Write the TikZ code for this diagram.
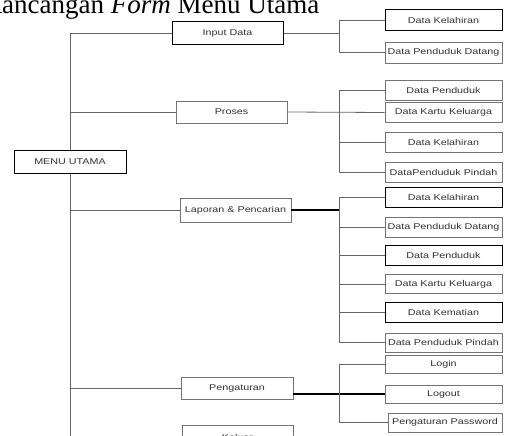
\documentclass[tikz,border=0pt]{standalone}
\usepackage{fontspec}
\setmainfont{Liberation Serif}
\newfontfamily\boxfont{Liberation Sans}
\newcommand\bt[1]{\scalebox{1.28}[1]{#1}}
\begin{document}
\begin{tikzpicture}[x=1pt,y=-1pt,
  box/.style={draw=black!55, line width=0.7pt, fill=white, minimum width=117pt, minimum height=20pt, inner sep=0pt,
    font=\boxfont\fontsize{8.4}{10}\selectfont, text=black!80},
  dark/.style={draw=black, line width=1pt},
  mid/.style={minimum width=111pt, minimum height=23pt},
  conn/.style={draw=black!60, line width=0.8pt},
  thick conn/.style={draw=black, line width=1.1pt}]
\useasboundingbox (0,0) rectangle (506,436);

% title (cut at top)
\node[anchor=base west, inner sep=0pt, font=\fontsize{27}{30}\selectfont] (title) at (-16,13.5) {Rancangan \textit{Form} Menu Utama};

% level 1
\node[box, dark, minimum width=112pt, minimum height=23pt] (menu) at (70,161.5) {\bt{MENU UTAMA}};
% level 2
\node[box, mid, dark] (input) at (227.5,33.5) {\bt{Input Data}};
\node[box, mid, minimum height=22pt] (proses) at (231.5,112) {\bt{Proses}};
\node[box, mid, minimum height=24pt] (lap) at (235.5,210) {\bt{Laporan \& Pencarian}};
\node[box, mid, minimum width=112pt, minimum height=22pt] (peng) at (237,388) {\bt{Pengaturan}};
\node[box, mid] (kel) at (237.5,437) {\bt{Keluar}};

% level 3
\node[box, dark, minimum height=21pt] (dk1) at (443.5,20.5) {\bt{Data Kelahiran}};
\node[box, minimum height=21pt] (dpd1) at (443.5,52.5) {\bt{Data Penduduk Datang}};

\node[box] (dp2) at (443.5,90) {\bt{Data Penduduk}};
\node[box] (dkk2) at (443.5,112.5) {\bt{Data Kartu Keluarga}};
\node[box] (dk2) at (443.5,142) {\bt{Data Kelahiran}};
\node[box] (dpp2) at (443.5,172.5) {\bt{DataPenduduk Pindah}};

\node[box, dark] (dk3) at (443.5,197) {\bt{Data Kelahiran}};
\node[box] (dpd3) at (443.5,227) {\bt{Data Penduduk Datang}};
\node[box, dark] (dp3) at (443.5,255.5) {\bt{Data Penduduk}};
\node[box, minimum height=19pt] (dkk3) at (443.5,284) {\bt{Data Kartu Keluarga}};
\node[box, dark] (dkm3) at (443.5,312) {\bt{Data Kematian}};
\node[box, minimum height=19pt] (dpp3) at (443.5,342.5) {\bt{Data Penduduk Pindah}};

\node[box, minimum height=18pt] (login) at (443.5,364) {\bt{Login}};
\node[box, minimum height=18pt] (logout) at (443.5,394) {\bt{Logout}};
\node[box, minimum width=114pt, minimum height=19pt] (pass) at (445,422.5) {\bt{Pengaturan Password}};

% junction columns
\coordinate (tr) at (70,0);
\coordinate (jc) at (339,0);

% trunk
\draw[conn] (input.west) -- (input.west -| tr) -- (menu.north);
\draw[conn] (menu.south) -- (kel.west -| tr) -- (kel.west);
\draw[conn] (proses.west) -- (proses.west -| tr);
\draw[conn] (lap.west) -- (lap.west -| tr);
\draw[conn] (peng.west) -- (peng.west -| tr);

% input data group
\draw[conn] (input.east) -- (input.east -| jc);
\draw[conn] (dk1.west) -- (dk1.west -| jc) -- (dpd1.west -| jc) -- (dpd1.west);

% proses group
\draw[conn] (proses.east) -- (dkk2.west);
\draw[conn] (dp2.west) -- (dp2.west -| jc) -- (dpp2.west -| jc) -- (dpp2.west);
\draw[conn] (dk2.west) -- (dk2.west -| jc);

% laporan group
\draw[thick conn] (lap.east) -- (lap.east -| jc);
\draw[conn] (dk3.west) -- (dk3.west -| jc) -- (dpp3.west -| jc) -- (dpp3.west);
\draw[conn] (dpd3.west) -- (dpd3.west -| jc);
\draw[conn] (dp3.west) -- (dp3.west -| jc);
\draw[conn] (dkk3.west) -- (dkk3.west -| jc);
\draw[conn] (dkm3.west) -- (dkm3.west -| jc);

% pengaturan group
\draw[thick conn] (logout.west -| peng.east) -- (logout.west);
\draw[conn] (login.west) -- (login.west -| jc) -- (pass.west -| jc) -- (pass.west);
\end{tikzpicture}
\end{document}
